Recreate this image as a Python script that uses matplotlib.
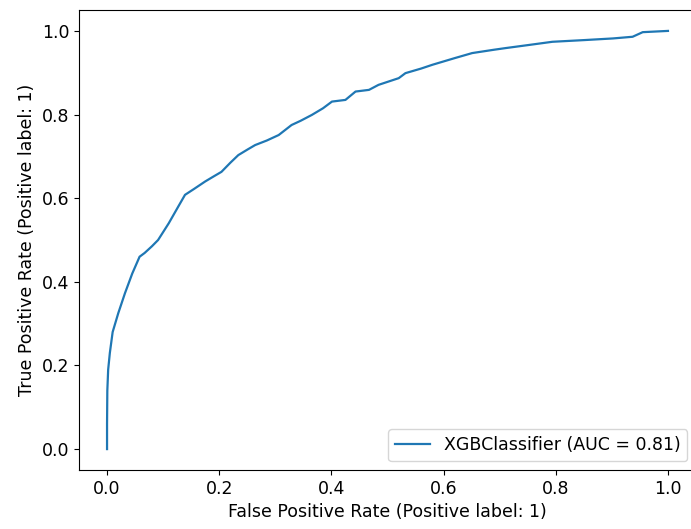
import numpy as np
import matplotlib
matplotlib.use("Agg")
import matplotlib.pyplot as plt

# ROC curve points
fpr = [0.0, 0.0, 0.0005, 0.002, 0.005, 0.010, 0.020, 0.032, 0.045, 0.058, 0.067,
       0.080, 0.091, 0.110, 0.127, 0.139, 0.155, 0.175, 0.190, 0.204, 0.220,
       0.234, 0.250, 0.264, 0.285, 0.306, 0.329, 0.345, 0.365, 0.385, 0.401,
       0.425, 0.443, 0.467, 0.484, 0.520, 0.532, 0.560, 0.580, 0.620, 0.651,
       0.690, 0.711, 0.750, 0.794, 0.850, 0.902, 0.937, 0.955, 1.0]
tpr = [0.0, 0.06, 0.14, 0.19, 0.23, 0.28, 0.325, 0.373, 0.42, 0.46, 0.469,
       0.485, 0.50, 0.54, 0.58, 0.608, 0.622, 0.64, 0.652, 0.663, 0.685,
       0.703, 0.716, 0.727, 0.738, 0.751, 0.775, 0.785, 0.799, 0.815, 0.831,
       0.835, 0.855, 0.859, 0.871, 0.887, 0.899, 0.910, 0.919, 0.935, 0.947,
       0.955, 0.959, 0.966, 0.974, 0.978, 0.982, 0.986, 0.997, 1.0]
auc = 0.81
label_name = "XGBClassifier"

plt.rcParams["font.size"] = 12.5

fig = plt.figure(figsize=(6.91, 5.29), dpi=100)
ax = fig.add_axes([79 / 691, 1 - 470 / 529, 617 / 691, 460 / 529])

ax.plot(fpr, tpr, color="#1f77b4", lw=1.6,
        label=f"{label_name} (AUC = {auc:.2f})")

ax.set_xlim(-0.05, 1.05)
ax.set_ylim(-0.05, 1.05)
ax.set_xlabel("False Positive Rate (Positive label: 1)")
ax.set_ylabel("True Positive Rate (Positive label: 1)")
ax.legend(loc="lower right")

fig.savefig("out.png", dpi=100)
